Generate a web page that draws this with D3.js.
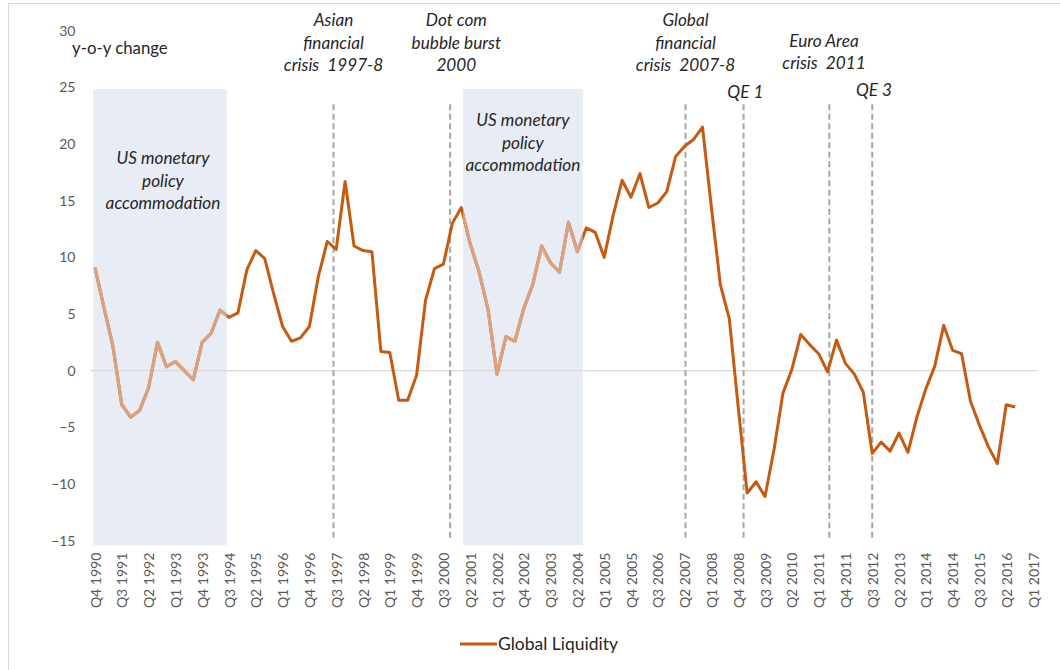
<!DOCTYPE html>
<html>
<head>
<meta charset="utf-8">
<script src="https://cdn.jsdelivr.net/npm/d3@7"></script>
<style>
  body { margin: 0; background: #fff; }
  svg { display: block; font-family: Lato, "Open Sans", sans-serif; }
  text { white-space: pre; }
</style>
</head>
<body>
<svg id="chart" width="1060" height="670"></svg>
<script>
// Global liquidity, y-o-y % change, one value per quarter starting Q4 1990
const liquidity = [
  9.1, 5.6, 2.2, -3.0, -4.1, -3.5, -1.5, 2.5, 0.35, 0.8,
  0.0, -0.8, 2.5, 3.3, 5.35, 4.7, 5.1, 8.9, 10.6, 9.9,
  6.8, 3.9, 2.6, 2.9, 3.9, 8.3, 11.4, 10.7, 16.7, 11.0,
  10.6, 10.5, 1.7, 1.6, -2.6, -2.6, -0.4, 6.2, 9.0, 9.4,
  13.0, 14.4, 11.2, 8.7, 5.4, -0.3, 3.0, 2.6, 5.5, 7.6,
  11.0, 9.5, 8.7, 13.1, 10.5, 12.6, 12.2, 10.0, 13.7, 16.8,
  15.3, 17.4, 14.4, 14.8, 15.8, 18.9, 19.8, 20.4, 21.5, 14.4,
  7.6, 4.6, -3.2, -10.8, -9.8, -11.1, -7.0, -2.0, 0.1, 3.2,
  2.3, 1.5, -0.1, 2.7, 0.65, -0.3, -1.9, -7.3, -6.3, -7.1,
  -5.5, -7.2, -4.1, -1.6, 0.4, 4.0, 1.8, 1.5, -2.7, -4.8,
  -6.7, -8.2, -3.0, -3.2
];

// Quarter categories on the axis: Q4 1990 .. Q1 2017
const quarterCount = 106;
const tickEvery = 3;
const tickLabels = [
  "Q4 1990", "Q3 1991", "Q2 1992", "Q1 1993", "Q4 1993", "Q3 1994",
  "Q2 1995", "Q1 1996", "Q4 1996", "Q3 1997", "Q2 1998", "Q1 1999",
  "Q4 1999", "Q3 2000", "Q2 2001", "Q1 2002", "Q4 2002", "Q3 2003",
  "Q2 2004", "Q1 2005", "Q4 2005", "Q3 2006", "Q2 2007", "Q1 2008",
  "Q4 2008", "Q3 2009", "Q2 2010", "Q1 2011", "Q4 2011", "Q3 2012",
  "Q2 2013", "Q1 2014", "Q4 2014", "Q3 2015", "Q2 2016", "Q1 2017"
];
const yTicks = [-15, -10, -5, 0, 5, 10, 15, 20, 25, 30];

// Periods of US monetary policy accommodation (quarter positions)
const easingStart = [-0.2, 41.2];
const easingEnd = [14.75, 54.6];
const easingText = ["US monetary", "policy", "accommodation"];

// Event markers (quarter positions) and their captions
const eventAt = [26.7, 39.75, 66.1, 72.6, 82.2, 87.0];
const eventText = [
  ["Asian", "financial", "crisis  1997-8"],
  ["Dot com", "bubble burst", "2000"],
  ["Global", "financial", "crisis  2007-8"],
  ["QE 1"],
  ["Euro Area", "crisis  2011"],
  ["QE 3"]
];

const seriesName = "Global Liquidity";
const axisTitle = "y-o-y change";

// ---- layout & styles ----
const dark = "#c55a11";
const light = "#d8a382";
const shade = "#e8ecf5";
const tickColor = "#595959";
const textColor = "#262626";
// caption placement: x shift (quarters) and baseline row of the last line
const captionLayout = [
  {dx: 0, lastY: 71}, {dx: 0.7, lastY: 71}, {dx: 0, lastY: 71},
  {dx: 0.2, lastY: 98}, {dx: -0.6, lastY: 69}, {dx: 0.2, lastY: 96}
];
const lineGap = 22.4;

const svg = d3.select("#chart");
svg.append("rect").attr("width", 1060).attr("height", 670).attr("fill", "#fff");
// outer frame
svg.append("rect").attr("x", 8.5).attr("y", 3.5).attr("width", 1070).attr("height", 680)
  .attr("fill", "none").attr("stroke", "#d9d9d9");

const x = d3.scaleLinear().domain([-0.5, quarterCount - 0.5]).range([90.5, 1037.5]);
const y = d3.scaleLinear().domain([-15, 30]).range([540.7, 30.7]);

// shaded easing periods
const spans = easingStart.map((s, i) => ({s, e: easingEnd[i]}));
svg.append("g").selectAll("rect").data(spans).join("rect")
  .attr("x", d => x(d.s)).attr("width", d => x(d.e) - x(d.s))
  .attr("y", y(24.85)).attr("height", y(-15.4) - y(24.85))
  .attr("fill", shade);

const clip = svg.append("defs").append("clipPath").attr("id", "easing");
clip.selectAll("rect").data(spans).join("rect")
  .attr("x", d => x(d.s)).attr("width", d => x(d.e) - x(d.s))
  .attr("y", 0).attr("height", 670);

// zero line
svg.append("line")
  .attr("x1", x(-0.5)).attr("x2", x(quarterCount - 0.5))
  .attr("y1", y(0)).attr("y2", y(0))
  .attr("stroke", "#d9d9d9").attr("stroke-width", 1.2);

// y axis
const yAxis = svg.append("g").attr("transform", `translate(${x(-0.5)},0)`)
  .call(d3.axisLeft(y).tickValues(yTicks).tickSize(0).tickPadding(15));
yAxis.select(".domain").remove();
yAxis.selectAll("text").attr("fill", tickColor).style("font-size", "14px")
  .style("font-family", "Lato, sans-serif");

// x axis
const xAxis = svg.append("g").attr("transform", `translate(0,${y(-15) + 4})`)
  .call(d3.axisBottom(x)
    .tickValues(d3.range(0, quarterCount, tickEvery))
    .tickFormat((d, i) => tickLabels[i])
    .tickSize(0));
xAxis.select(".domain").remove();
xAxis.selectAll("text")
  .attr("transform", "rotate(-90)")
  .attr("text-anchor", "end")
  .attr("x", -8).attr("y", 0).attr("dy", "0.36em")
  .attr("fill", tickColor).style("font-size", "14px")
  .style("font-family", "Lato, sans-serif");

// axis title
svg.append("text").attr("x", 72).attr("y", 54).text(axisTitle)
  .attr("fill", textColor).style("font-size", "16.8px");

// event markers
svg.append("g").selectAll("line").data(eventAt).join("line")
  .attr("x1", d => x(d)).attr("x2", d => x(d))
  .attr("y1", y(23.5)).attr("y2", y(-15))
  .attr("stroke", "#a6a6a6").attr("stroke-width", 2)
  .attr("stroke-dasharray", "6,3.5");

// series line: full in dark, lighter inside easing periods
const line = d3.line().x((d, i) => x(i)).y(d => y(d));
svg.append("path").datum(liquidity).attr("d", line)
  .attr("fill", "none").attr("stroke", dark).attr("stroke-width", 3)
  .attr("stroke-linejoin", "round");
svg.append("path").datum(liquidity).attr("d", line)
  .attr("clip-path", "url(#easing)")
  .attr("fill", "none").attr("stroke", light).attr("stroke-width", 3.2)
  .attr("stroke-linejoin", "round");

// captions
function caption(lines, cx, lastY) {
  const t = svg.append("text").attr("text-anchor", "middle")
    .attr("fill", textColor).style("font-size", "17.2px").style("font-style", "italic");
  lines.forEach((s, k) => {
    t.append("tspan").attr("x", cx).attr("y", lastY - (lines.length - 1 - k) * lineGap).text(s);
  });
}
eventText.forEach((lines, i) => caption(lines, x(eventAt[i] + captionLayout[i].dx), captionLayout[i].lastY));
const easingLayout = [{dx: 3, lastY: 209}, {dx: 0, lastY: 171}];
spans.forEach((d, i) => caption(easingText, (x(d.s) + x(d.e)) / 2 + easingLayout[i].dx, easingLayout[i].lastY));

// legend
svg.append("line").attr("x1", 460).attr("x2", 497).attr("y1", 644).attr("y2", 644)
  .attr("stroke", dark).attr("stroke-width", 3);
svg.append("text").attr("x", 498).attr("y", 650).text(seriesName)
  .attr("fill", textColor).style("font-size", "17.5px");
</script>
</body>
</html>
